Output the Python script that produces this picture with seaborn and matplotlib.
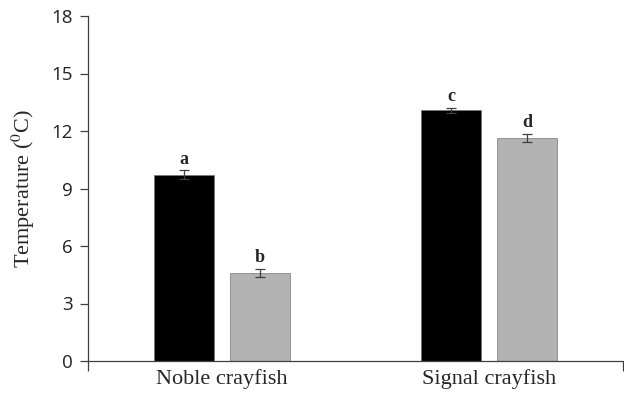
import matplotlib
matplotlib.use("Agg")
import matplotlib.pyplot as plt
import seaborn as sns
import pandas as pd
import numpy as np

species = ["Noble crayfish", "Signal crayfish"]
groups = ["A", "B"]
means_A = [9.72, 13.08]
means_B = [4.61, 11.65]
err_A = [0.22, 0.12]
err_B = [0.21, 0.20]
letters_A = ["a", "c"]
letters_B = ["b", "d"]
yticks = [0, 3, 6, 9, 12, 15, 18]

df = pd.DataFrame({
    "species": species * 2,
    "group": [groups[0]] * 2 + [groups[1]] * 2,
    "temp": means_A + means_B,
    "err": err_A + err_B,
    "letter": letters_A + letters_B,
})

sns.set_style("white")
plt.rcParams["mathtext.fontset"] = "stix"

fig = plt.figure(figsize=(6.24, 4.0), dpi=100)
ax = fig.add_axes([88 / 624, 39 / 400, 535 / 624, 345 / 400])

sns.barplot(data=df, x="species", y="temp", hue="group", order=species,
            hue_order=groups, palette=["#000000", "#b3b3b3"], width=0.567,
            gap=0.21, errorbar=None, legend=False, ax=ax,
            edgecolor="#777777", linewidth=0.5)

# error bars and letters from bar patches
bars = [p for p in ax.patches if p.get_height() > 0]
for p, (_, row) in zip(bars, df.iterrows()):
    xc = p.get_x() + p.get_width() / 2
    h = p.get_height()
    ax.errorbar(xc, h, yerr=row["err"], fmt="none", ecolor="#404040",
                elinewidth=0.9, capsize=3.5, capthick=0.9)
    ax.annotate(row["letter"], (xc, h + row["err"]), xytext=(0, 2),
                textcoords="offset points", ha="center", va="bottom",
                fontsize=13, fontweight="bold", family="Liberation Serif")

ax.set_xlim(-0.5, 1.5)
ax.set_ylim(0, 18)
ax.set_yticks(yticks)
ax.set_yticklabels([str(t) for t in yticks], family="Open Sans", fontsize=13.5,
                   color="#222222")
ax.set_xticks([0, 1])
ax.set_xticklabels(species, family="Liberation Serif", fontsize=16)
ax.tick_params(axis="x", length=0, pad=6)
ax.tick_params(axis="y", length=6, width=0.9, color="#404040", pad=5,
               direction="out", left=True)
ax.set_xticks([-0.5, 1.5], minor=True)
ax.tick_params(axis="x", which="minor", length=7, width=0.9, color="#404040",
               direction="out", bottom=True)
ax.set_xlabel("")
ax.set_ylabel("Temperature ($^{0}$C)", family="Liberation Serif", fontsize=16,
              labelpad=10)

for s in ["top", "right"]:
    ax.spines[s].set_visible(False)
for s in ["left", "bottom"]:
    ax.spines[s].set_color("#404040")
    ax.spines[s].set_linewidth(0.9)

fig.savefig("out.png", dpi=100, facecolor="white")
